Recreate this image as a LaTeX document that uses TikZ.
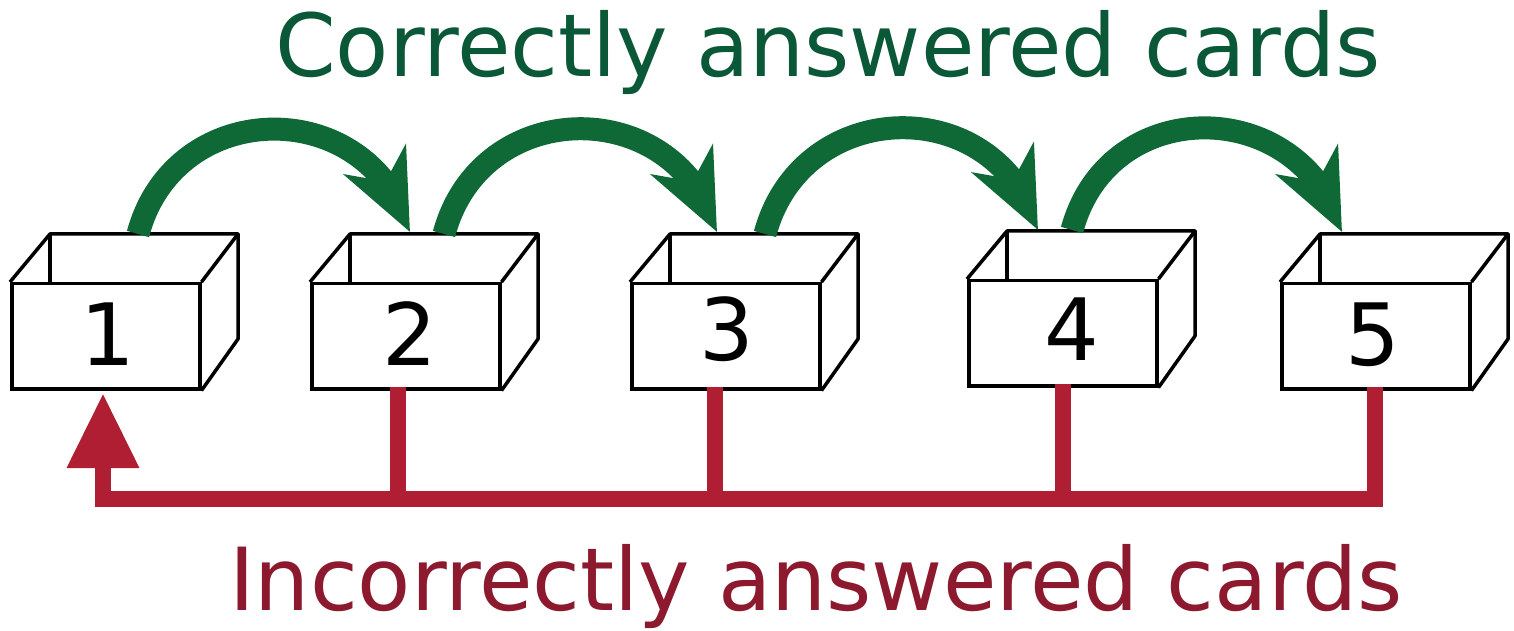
\documentclass[tikz,border=0pt]{standalone}
\usepackage{fontspec}
\setmainfont{DejaVu Sans}
\usetikzlibrary{arrows.meta,bending}
\definecolor{greenA}{RGB}{15,105,55}
\definecolor{greenT}{RGB}{10,88,55}
\definecolor{redA}{RGB}{175,30,50}
\definecolor{redT}{RGB}{140,25,45}
\tikzset{
  frontbox/.style={draw=black,fill=white,line width=3.5pt,minimum width=188pt,minimum height=105pt,inner sep=0pt,anchor=north west},
  boxline/.style={draw=black,line width=3.5pt,line join=round},
  digit/.style={inner sep=0pt,anchor=base,font=\fontsize{86}{100}\selectfont},
  caption/.style={inner sep=0pt,anchor=base,font=\fontsize{87}{100}\selectfont},
  correct/.style={draw=greenA,line width=23pt,-{Stealth[length=80pt,width=68pt,inset=24pt,flex]},out=75,in=106,looseness=1.35},
  wrong/.style={draw=redA,line width=16pt,line join=miter},
}
\begin{document}
\begin{tikzpicture}[x=1pt,y=1pt]
\useasboundingbox[fill=white] (0,0) rectangle (1514,630);
% boxes
\foreach \i/\L/\T in {1/10/348,2/310/348,3/630/348,4/967/351,5/1280/348}{
  \node[frontbox] (b\i) at (\L,\T) {};
  \draw[boxline] (b\i.north west) -- ++(40,48) coordinate (b\i-bl) -- ++(188,0) coordinate (b\i-br) -- (b\i.north east);
  \draw[boxline] (b\i-bl) -- ++(0,-48);
  \draw[boxline] (b\i-br) -- ++(0,-105) -- (b\i.south east);
}
% digits
\node[digit] (n1) at (108,265) {1};
\node[digit] (n2) at (410,265) {2};
\node[digit] (n3) at (727,270) {3};
\node[digit] (n4) at (1072,270) {4};
\node[digit] (n5) at (1373,265) {5};
% green arrows
\coordinate (s1) at (138,396); \coordinate (t1) at (410,398);
\coordinate (s2) at (444,396); \coordinate (t2) at (717,398);
\coordinate (s3) at (765,396); \coordinate (t3) at (1038,400);
\coordinate (s4) at (1072,400); \coordinate (t4) at (1342,398);
\draw[correct] (s1) to (t1);
\draw[correct] (s2) to (t2);
\draw[correct] (s3) to (t3);
\draw[correct] (s4) to (t4);
% red connectors
\coordinate (c1) at (103,237);
\coordinate (c2) at (398,243);
\coordinate (c3) at (715,243);
\coordinate (c4) at (1063,246);
\coordinate (c5) at (1375,243);
\coordinate (h) at (103,131);
\draw[wrong,-{Triangle[length=75pt,width=68pt]}] (c5) |- (h) -- (c1);
\draw[wrong] (c2) -- (c2 |- h);
\draw[wrong] (c3) -- (c3 |- h);
\draw[wrong] (c4) -- (c4 |- h);
% captions
\node[caption,text=greenT] (ct) at (828,553) {Correctly answered cards};
\node[caption,text=redT] (it) at (816,20) {Incorrectly answered cards};
\end{tikzpicture}
\end{document}
